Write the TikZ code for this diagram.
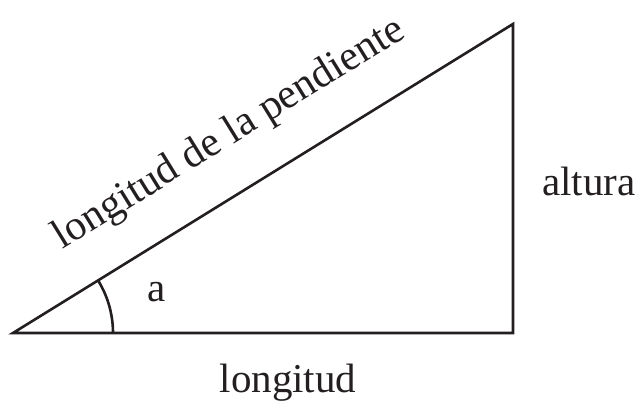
\documentclass[tikz,border=0pt]{standalone}
\usepackage{fontspec}
\setmainfont{Liberation Serif}
\usepackage{tikz}
\pgfdeclarelayer{edgelayer}
\pgfdeclarelayer{nodelayer}
\pgfsetlayers{edgelayer,nodelayer,main}
\definecolor{ink}{HTML}{231F20}
\tikzstyle{edge}=[draw=ink, line width=2.6pt, line join=miter]
\tikzstyle{label}=[inner sep=0pt, text=ink, font=\fontsize{41}{48}\selectfont]

\begin{document}
\begin{tikzpicture}[x=1pt, y=1pt]
			\useasboundingbox (0, 0) rectangle (638, 403);
			\begin{pgfonlayer}{nodelayer}
			\coordinate (0) at (13, 70);
			\coordinate (1) at (513, 70);
			\coordinate (2) at (513, 379);
			\node [style=label, anchor=base] (3) at (288, 10) {longitud};
			\node [style=label, anchor=base] (4) at (589, 207) {altura};
			\node [style=label, anchor=base, rotate=31.71, font=\fontsize{42}{48}\selectfont] (5) at (234.8, 259.8) {longitud de la pendiente};
			\node [style=label] (6) at (157, 111) {a};
			\end{pgfonlayer}
			\begin{pgfonlayer}{edgelayer}
			\draw [style=edge] (0) -- (1) -- (2) -- cycle;
			\draw [style=edge] ([xshift=100pt]0) arc (0:31.71:100);
			\end{pgfonlayer}
\end{tikzpicture}
\end{document}
